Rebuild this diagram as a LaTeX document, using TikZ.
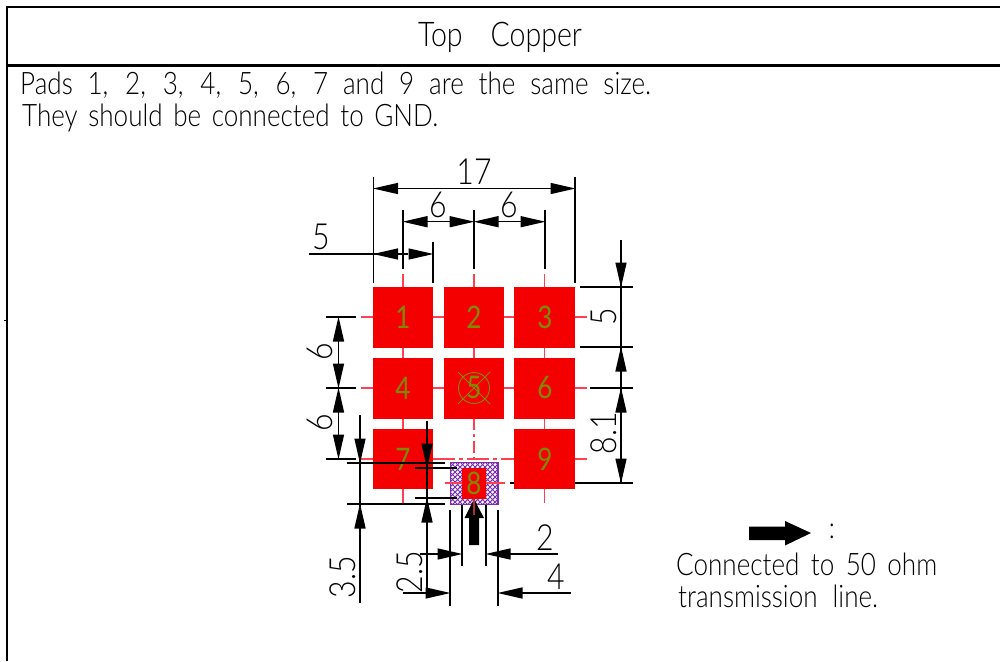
\documentclass[tikz,border=0pt]{standalone}
\usepackage{fontspec}
\setmainfont{Lato}[UprightFont=* Light,FakeStretch=0.84]
\newfontfamily\padfont{Lato}[FakeStretch=0.84]
\usetikzlibrary{arrows.meta}
\definecolor{padred}{HTML}{F50000}
\definecolor{cline}{HTML}{FF4050}
\definecolor{olivetxt}{HTML}{808A00}
\definecolor{hatch}{HTML}{7A2FB0}
\newcommand{\fit}[2]{\makebox[#1pt][s]{#2}}
\tikzset{
  x=1pt,y=-1pt,
  pad/.style={fill=padred,draw=none,minimum width=60.5pt,minimum height=60.5pt,inner sep=0,outer sep=0},
  padnum/.style={text=olivetxt,font=\padfont\fontsize{31}{31}\selectfont,inner sep=0},
  dimline/.style={black,line width=1.4pt},
  dimtip/.style={black,line width=1.4pt,-{Triangle[length=25pt,width=11pt]},shorten >=-0.5pt},
  dimnum/.style={font=\fontsize{36}{36}\selectfont,inner sep=0},
  dimnumr/.style={font=\fontsize{36}{36}\selectfont,rotate=90,inner sep=0},
  cen/.style={cline,line width=1.3pt},
  label/.style={font=\fontsize{31}{31}\selectfont,inner sep=0,anchor=west},
  frameline/.style={black,line width=2.8pt},
}
\begin{document}
\begin{tikzpicture}
\useasboundingbox (0,0) rectangle (1000,661);
% frame
\draw[frameline] (1000,7) -- (7,7) -- (7,661);
\draw[frameline] (7,65.5) -- (1000,65.5);
\draw[black,line width=1pt] (4,320) -- (7,320);
% texts
\node[font=\fontsize{34}{34}\selectfont,inner sep=0] (title) at (500,37.5) {\fit{164}{Top Copper}};
\node[label] (t1) at (20,85) {\fit{631}{Pads 1, 2, 3, 4, 5, 6, 7 and 9 are the same size.}};
\node[label] (t2) at (22,117.5) {\fit{416}{They should be connected to GND.}};
\node[label] (t3) at (676,564.5) {\fit{261}{Connected to 50 ohm}};
\node[label] (t4) at (678,596.5) {\fit{200}{transmission line.}};
\node[font=\fontsize{30}{30}\selectfont,inner sep=0] (colon) at (832,531) {:};
% centre lines
\draw[cen] (403,274) -- (403,503);
\draw[cen] (544.5,274) -- (544.5,503);
\draw[cen] (474,274) -- (474,418);
\draw[cen,dash pattern=on 12pt off 4pt on 3pt off 4pt] (474,418) -- (474,463);
\draw[cen] (361,317) -- (587,317);
\draw[cen] (361,388) -- (587,388);
\draw[cen] (361,459) -- (433,459);
\draw[cen,dash pattern=on 22pt off 4pt on 4pt off 4pt] (433,459) -- (514,459);
\draw[cen] (514,459) -- (587,459);
% line hidden behind pad 9
\draw[dimline] (510,483) -- (633,483);
% pads
\node[pad] (p1) at (403,317.3) {};
\node[pad] (p2) at (474,317.3) {};
\node[pad] (p3) at (544.7,317.3) {};
\node[pad] (p4) at (403,388.3) {};
\node[pad] (p5) at (474,388.3) {};
\node[pad] (p6) at (544.7,388.3) {};
\node[pad] (p7) at (403,459.2) {};
\node[pad] (p9) at (544.7,459.2) {};
% pad 8 with its hatched ring
\begin{scope}
\clip (450.3,462.7) rectangle (498,504.7);
\foreach \k in {0,5,...,100} {
  \draw[hatch,line width=1.05pt] (\k+405,462) -- (\k+450,507);
  \draw[hatch,line width=1.05pt] (\k+405,507) -- (\k+450,462);
}
\end{scope}
\draw[hatch,line width=1.3pt] (450.3,462.7) rectangle (498,504.7);
\draw[cen] (445,483) -- (505,483);
\node[fill=padred,draw=none,minimum width=24pt,minimum height=31pt,inner sep=0] (p8) at (474,483.5) {};
% pad 5 target
\draw[olivetxt,line width=.9pt] (474,388) circle (15.5);
\draw[olivetxt,line width=.9pt] (458,372) -- (490,404) (458,404) -- (490,372);
% pad numbers
\foreach \n/\a/\b in {1/403/317,2/474/317,3/545/317,4/403/388,5/474/388,6/545/388,7/403/459,8/474/483,9/545/459}
  \node[padnum] (n\n) at (\a,\b) {\n};
% dim 17
\draw[dimline] (373.5,177) -- (373.5,283);
\draw[dimline] (575,177) -- (575,283);
\draw[dimtip] (398,188.5) -- (373.5,188.5);
\draw[dimtip] (550,188.5) -- (575,188.5);
\draw[dimline] (398,188.5) -- (550,188.5);
\node[dimnum] (d17) at (474,172) {17};
% dims 6 6
\draw[dimline] (403,210) -- (403,269);
\draw[dimline] (474,210) -- (474,269);
\draw[dimline] (545,210) -- (545,269);
\draw[dimline] (427,221.7) -- (450,221.7);
\draw[dimline] (498,221.7) -- (521,221.7);
\draw[dimtip] (427,221.7) -- (403,221.7);
\draw[dimtip] (450,221.7) -- (474,221.7);
\draw[dimtip] (498,221.7) -- (474,221.7);
\draw[dimtip] (521,221.7) -- (545,221.7);
\node[dimnum] (d6a) at (438,205) {6};
\node[dimnum] (d6b) at (509,205) {6};
% dim 5 top
\draw[dimline] (433,242) -- (433,283);
\draw[dimline] (309,254) -- (408,254);
\draw[dimtip] (398,254) -- (373.5,254);
\draw[dimtip] (408.5,254) -- (433,254);
\node[dimnum] (d5) at (321,237) {5};
% right dims
\draw[dimline] (580,287) -- (633,287);
\draw[dimline] (580,347) -- (633,347);
\draw[dimline] (590,388) -- (633,388);
\draw[dimline] (621,240) -- (621,483);
\draw[dimtip] (621,263) -- (621,287);
\draw[dimtip] (621,371) -- (621,347);
\draw[dimtip] (621,412) -- (621,388);
\draw[dimtip] (621,459) -- (621,483);
\node[dimnumr] (d5r) at (604,317) {5};
\node[dimnumr] (d81) at (604,433) {8.1};
% left dims
\draw[dimline] (326,317) -- (356,317);
\draw[dimline] (326,388) -- (356,388);
\draw[dimline] (326,459) -- (356,459);
\draw[dimline] (338.5,317) -- (338.5,459);
\draw[dimtip] (338.5,341) -- (338.5,317);
\draw[dimtip] (338.5,364) -- (338.5,388);
\draw[dimtip] (338.5,412) -- (338.5,388);
\draw[dimtip] (338.5,435) -- (338.5,459);
\node[dimnumr] (d6c) at (320,352) {6};
\node[dimnumr] (d6d) at (320,423) {6};
% dim 3.5
\draw[dimline] (347,463) -- (445,463);
\draw[dimline] (347,504) -- (445,504);
\draw[dimline] (360,415) -- (360,603);
\draw[dimtip] (360,439) -- (360,463);
\draw[dimtip] (360,528) -- (360,504);
\node[dimnumr] (d35) at (342.5,577) {3.5};
% dim 2.5
\draw[dimline] (415,468) -- (457,468);
\draw[dimline] (415,498) -- (457,498);
\draw[dimline] (427,421) -- (427,593);
\draw[dimtip] (427,444) -- (427,468);
\draw[dimtip] (427,522) -- (427,498);
\node[dimnumr] (d25) at (410,572) {2.5};
% dim 2
\draw[dimline] (462,505) -- (462,566);
\draw[dimline] (486,505) -- (486,566);
\draw[dimline] (420,554) -- (438,554);
\draw[dimtip] (438,554) -- (462,554);
\draw[dimtip] (510,554) -- (486,554);
\draw[dimline] (510,554) -- (558,554);
\node[dimnum] (d2) at (545,538) {2};
% dim 4
\draw[dimline] (450,510) -- (450,606);
\draw[dimline] (498,510) -- (498,606);
\draw[dimline] (403,593) -- (426,593);
\draw[dimtip] (426,593) -- (450,593);
\draw[dimtip] (522,593) -- (498,593);
\draw[dimline] (522,593) -- (571,593);
\node[dimnum] (d4) at (556,577) {4};
% thick arrows
\fill[black] (474,499) -- (484,518) -- (479,518) -- (479,545) -- (469,545) -- (469,518) -- (464.5,518) -- cycle;
\draw[cline!70!black,line width=1.2pt] (474,499) -- (474,515);
\fill[black] (749,526.5) -- (785,526.5) -- (785,521) -- (811,533) -- (785,545.5) -- (785,540) -- (749,540) -- cycle;
\end{tikzpicture}
\end{document}
